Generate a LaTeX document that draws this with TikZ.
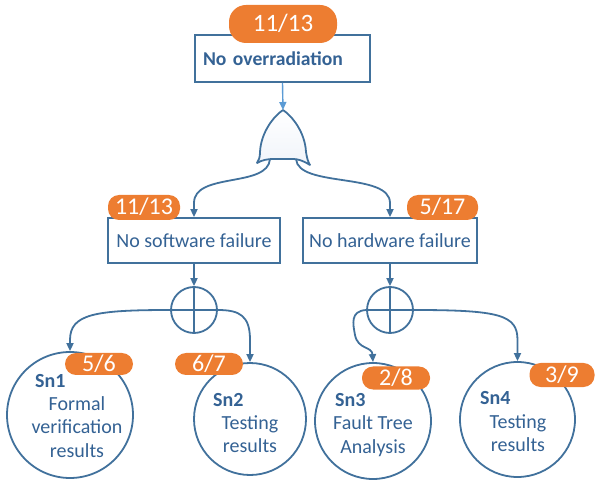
\documentclass[tikz,border=0pt]{standalone}
\usepackage{fontspec}
\setmainfont{Carlito}
\usetikzlibrary{arrows.meta,shapes.geometric}
\definecolor{bline}{RGB}{65,113,156}
\definecolor{btext}{RGB}{52,98,148}
\definecolor{lblue}{RGB}{91,155,213}
\definecolor{borange}{RGB}{237,125,49}
\definecolor{gfill}{RGB}{240,244,250}
\tikzset{
  conn/.style={draw=bline, line width=1.8pt, -{Triangle[length=8pt,width=7pt]}},
  plainline/.style={draw=bline, line width=1.8pt},
  rectbox/.style={draw=bline, line width=1.8pt, fill=white, text=btext, font=\fontsize{20}{24}\selectfont, inner sep=0pt},
  badge/.style={fill=borange, rounded corners=11pt, text=white, font=\fontsize{24}{26}\selectfont, inner sep=0pt, text height=15.5pt, text depth=0.5pt},
  sncircle/.style={circle, draw=bline, line width=1.8pt, fill=white, inner sep=0pt},
  snlabel/.style={text=btext, font=\bfseries\fontsize{20}{24}\selectfont, inner sep=0pt},
  sndesc/.style={text=btext, font=\fontsize{20}{23.5}\selectfont, align=center, inner sep=0pt},
  xorc/.style={circle, draw=bline, line width=1.8pt, fill=white, minimum size=46pt, inner sep=0pt},
}
\begin{document}
\begin{tikzpicture}[x=1pt,y=-1pt]
\useasboundingbox (0,0) rectangle (595,481);
% top goal
\node[rectbox, minimum width=175pt, minimum height=47pt, text width=159pt, align=left, inner sep=8pt, inner ysep=0pt, font=\bfseries\fontsize{19.6}{24}\selectfont] (top) at (282.5,58.5) {No overradiation};
\node[badge, minimum width=108pt, minimum height=38pt, rounded corners=17pt, font=\fontsize{25}{27}\selectfont] (btop) at (283,24) {11/13};
% OR gate
\coordinate (gtop) at (283,110);
\coordinate (gl) at (270,159);
\coordinate (gr) at (296,159);
\filldraw[draw=bline, line width=1.8pt, top color=white, bottom color=gfill, line join=round]
  (gtop) .. controls (292,116) and (305,132) .. (306,152)
  .. controls (307,158) and (308,162) .. (310,165)
  .. controls (302,160) and (297,159) .. (293,159) -- (273,159)
  .. controls (268,159) and (262,160) .. (257,163)
  .. controls (259,160) and (260,157) .. (260,152)
  .. controls (261,132) and (274,116) .. (gtop) -- cycle;
\draw[conn, draw=lblue, line width=1.4pt] (top.south) -- (gtop);
% second level boxes
\node[rectbox, minimum width=172pt, minimum height=45pt] (sw) at (194,240.5) {No software failure};
\node[rectbox, minimum width=174pt, minimum height=45pt] (hw) at (390,240.5) {No hardware failure};
\node[badge, minimum width=72pt, minimum height=25pt] (bsw) at (144,207.5) {11/13};
\node[badge, minimum width=71pt, minimum height=25pt] (bhw) at (442.5,207.5) {5/17};
\draw[conn] (gl) .. controls (268,188) and (194,172) .. (194,203) -- (sw.north);
\draw[conn] (gr) .. controls (298,188) and (390,172) .. (390,203) -- (hw.north);
% XOR circles
\node[xorc] (x1) at (194,310) {};
\node[xorc] (x2) at (390,310) {};
\draw[plainline] (x1.north) -- (x1.south) (x1.west) -- (x1.east);
\draw[plainline] (x2.north) -- (x2.south) (x2.west) -- (x2.east);
\draw[conn] (sw.south) -- (x1.north);
\draw[conn] (hw.south) -- (x2.north);
% solutions
\node[sncircle, minimum size=126pt] (sn1) at (70,415) {};
\node[sncircle, minimum size=112pt] (sn2) at (250,419) {};
\node[sncircle, minimum size=116pt] (sn3) at (373,421) {};
\node[sncircle, minimum size=115pt] (sn4) at (517.5,419.5) {};
\draw[conn] (x1.west) .. controls (95,310) and (70,314) .. (70,340) -- (sn1.north);
\draw[conn] (x1.east) .. controls (240,310) and (250,316) .. (250,340) -- (sn2.north);
\draw[conn] (x2.west) .. controls (350,311) and (353,324) .. (355,335) .. controls (358,350) and (372,346) .. (sn3.north);
\draw[conn] (x2.east) .. controls (500,310) and (517.5,315) .. (517.5,340) -- (sn4.north);
% labels in circles
\node[snlabel, anchor=west] (l1) at (35,381) {Sn1};
\node[sndesc] (d1) at (77,427) {Formal\\verification\\results};
\node[snlabel, anchor=west] (l2) at (213,400) {Sn2};
\node[sndesc] (d2) at (250,434) {Testing\\results};
\node[snlabel, anchor=west] (l3) at (335,400) {Sn3};
\node[sndesc] (d3) at (373,436) {Fault Tree\\Analysis};
\node[snlabel, anchor=west] (l4) at (480,398) {Sn4};
\node[sndesc] (d4) at (518,433) {Testing\\results};
% badges on solutions
\node[badge, minimum width=68pt, minimum height=22pt] (b1) at (99,364) {5/6};
\node[badge, minimum width=68pt, minimum height=22pt] (b2) at (209,364) {6/7};
\node[badge, minimum width=68pt, minimum height=23pt] (b3) at (396,378) {2/8};
\node[badge, minimum width=65pt, minimum height=24pt] (b4) at (562,375) {3/9};
\end{tikzpicture}
\end{document}
